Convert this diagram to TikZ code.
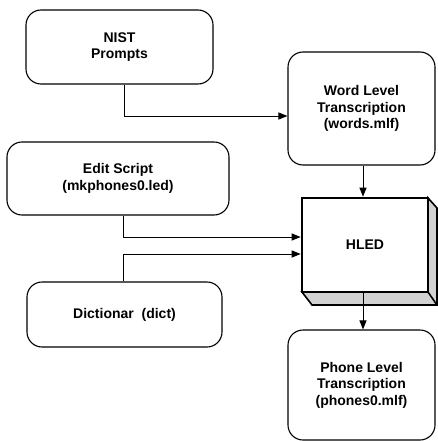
\documentclass[tikz,border=0pt]{standalone}
\usepackage{fontspec}
\setmainfont{Liberation Sans}
\usetikzlibrary{arrows.meta,calc}
\begin{document}
\begin{tikzpicture}[x=1pt,y=-1pt,
  box/.style={draw,line width=1.1pt,rounded corners=15pt,align=center,
    font=\fontsize{14}{16.5}\selectfont\bfseries,inner sep=0pt},
  arr/.style={line width=1pt,-{Triangle[length=9pt,width=7pt]}},
  shade/.style={fill=gray!35,draw=black,line width=1.6pt}]
\useasboundingbox (0,0) rectangle (437,441);
\node[box,minimum width=187pt,minimum height=74pt] (nist) at (119.5,47) {NIST\\Prompts};
\node[box,minimum width=147pt,minimum height=113pt] (word) at (361.5,108.5) {Word Level\\Transcription\\(words.mlf)};
\node[box,minimum width=222pt,minimum height=73pt] (edit) at (118,178.5) {Edit Script\\(mkphones0.led)};
\node[box,minimum width=195pt,minimum height=65pt] (dict) at (124.5,314.5) {Dictionar\ \ (dict)};
\node[box,minimum width=147pt,minimum height=110pt] (phone) at (361.5,385) {Phone Level\\Transcription\\(phones0.mlf)};
% HLED 3D box
\fill[shade] (428,198) -- (437,208) -- (437,305) -- (312,305) -- (302,292) -- (428,292) -- cycle;
\draw[line width=1.6pt] (428,292) -- (437,305);
\node[draw,line width=2.6pt,fill=white,minimum width=126pt,minimum height=94pt,inner sep=0pt,
  font=\fontsize{14}{16.5}\selectfont\bfseries] (hled) at (365,245) {HLED};
% connectors
\coordinate (c1) at ($(nist.south)+(4.5,0)$);
\draw[arr] (c1) |- ([yshift=-7.5pt]word.west);
\draw[arr] (word.south -| 363,0) -- (hled.north -| 363,0);
\coordinate (c2) at ($(edit.south)+(5,0)$);
\draw[arr] (c2) |- ([yshift=8pt]hled.west);
\coordinate (c3) at ($(dict.north)+(-1.5,0)$);
\draw[arr] (c3) |- ([yshift=-9pt]hled.west);
\draw[arr] (hled.south -| 363,0) -- (phone.north -| 363,0);
\end{tikzpicture}
\end{document}
